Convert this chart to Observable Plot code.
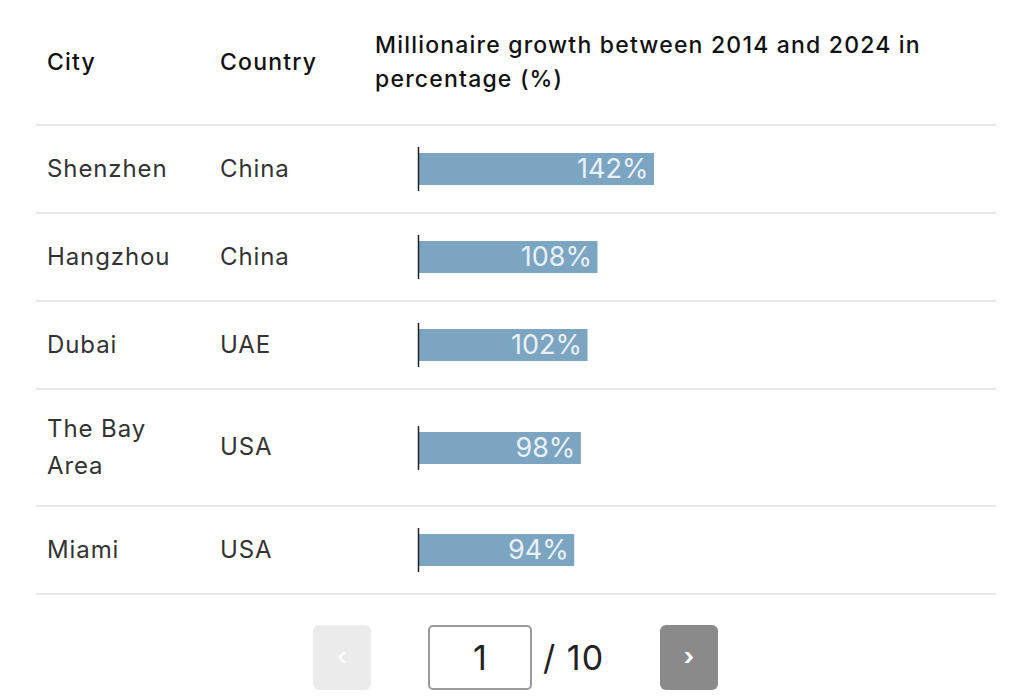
<!DOCTYPE html>
<html>
<head>
<meta charset="utf-8">
<script src="https://cdn.jsdelivr.net/npm/d3@7"></script>
<script src="https://cdn.jsdelivr.net/npm/@observablehq/plot@0.6"></script>
<style>
  html, body { margin: 0; padding: 0; background: #fff; }
  body { font-family: Inter, "Noto Sans", sans-serif; color: #333; width: 1024px; height: 697px; overflow: hidden; }
  #wrap { position: absolute; left: 36px; top: 0; width: 960px; }
  table { border-collapse: collapse; width: 960px; table-layout: fixed; }
  th { font-weight: 500; font-size: 23px; line-height: 34px; color: #111; text-align: left; vertical-align: middle;
       padding: 28px 0 28px 11px; border-bottom: 2px solid #e8e8e8; white-space: nowrap; letter-spacing: 1.2px; }
  td { font-size: 24px; line-height: 36.5px; color: #333; vertical-align: middle; padding: 21px 0 21px 11px;
       border-bottom: 2px solid #e8e8e8; letter-spacing: 0.9px; }
  td.bar { padding-left: 0; letter-spacing: 0; }
  td.bar svg { display: block; margin-left: 53px; overflow: visible; letter-spacing: 0; }
  #pager { position: absolute; top: 625px; left: 0; width: 1024px; height: 65px; }
  .btn { position: absolute; top: 0; width: 58px; height: 65px; border-radius: 6px; text-align: center;
         line-height: 63px; font-size: 24px; font-weight: 700; color: #fff; }
  #prev { left: 313px; background: #ebebeb; color: #fafafa; }
  #next { left: 660px; background: #8a8a8a; }
  #input { position: absolute; left: 428px; top: 0; width: 100px; height: 61px; border: 2px solid #9a9a9a; border-radius: 5px;
           text-align: center; font-size: 34px; line-height: 61px; color: #222; }
  #total { position: absolute; left: 543px; top: 0; height: 65px; line-height: 65px; font-size: 34px; color: #222; letter-spacing: 1px; }
</style>
</head>
<body>
<div id="wrap">
  <table>
    <colgroup><col style="width:173px"><col style="width:155px"><col></colgroup>
    <thead>
      <tr><th id="h1"></th><th id="h2"></th><th id="h3"></th></tr>
    </thead>
    <tbody id="tb"></tbody>
  </table>
</div>
<div id="pager">
  <div class="btn" id="prev">‹</div>
  <div id="input">1</div>
  <div id="total">/ 10</div>
  <div class="btn" id="next">›</div>
</div>
<script>
const headers = ["City", "Country", "Millionaire growth between 2014 and 2024 in|percentage (%)"];
const cities = ["Shenzhen", "Hangzhou", "Dubai", "The Bay|Area", "Miami"];
const countries = ["China", "China", "UAE", "USA", "USA"];
const growth = [142, 108, 102, 98, 94];
const page = 1, pages = 10;

["h1", "h2", "h3"].forEach((id, i) => {
  const el = document.getElementById(id);
  headers[i].split("|").forEach((line, j) => {
    if (j) el.appendChild(document.createElement("br"));
    el.appendChild(document.createTextNode(line));
  });
});

const maxVal = d3.max(growth);
const tb = document.getElementById("tb");
cities.forEach((city, i) => {
  const tr = document.createElement("tr");
  const td1 = document.createElement("td");
  city.split("|").forEach((line, j) => {
    if (j) td1.appendChild(document.createElement("br"));
    td1.appendChild(document.createTextNode(line));
  });
  const td2 = document.createElement("td");
  td2.textContent = countries[i];
  const td3 = document.createElement("td");
  td3.className = "bar";
  const row = [{ v: growth[i], label: growth[i] + "%" }];
  const chart = Plot.plot({
    width: 240,
    height: 44,
    margin: 0,
    x: { domain: [0, maxVal], range: [1, 237], axis: null },
    marks: [
      Plot.barX(row, { x: "v", fill: "#7ba5c1", insetTop: 6, insetBottom: 6 }),
      Plot.text(row, { x: "v", text: "label", textAnchor: "end", dx: -6, dy: 0, fill: "#eaf1f6",
                       fontSize: 27, fontFamily: "Inter, sans-serif", fontWeight: 400 }),
      Plot.ruleX([0], { stroke: "#222", strokeWidth: 1.5 })
    ]
  });
  td3.appendChild(chart);
  tr.appendChild(td1); tr.appendChild(td2); tr.appendChild(td3);
  tb.appendChild(tr);
});
document.getElementById("input").textContent = page;
document.getElementById("total").textContent = "/ " + pages;
</script>
</body>
</html>
